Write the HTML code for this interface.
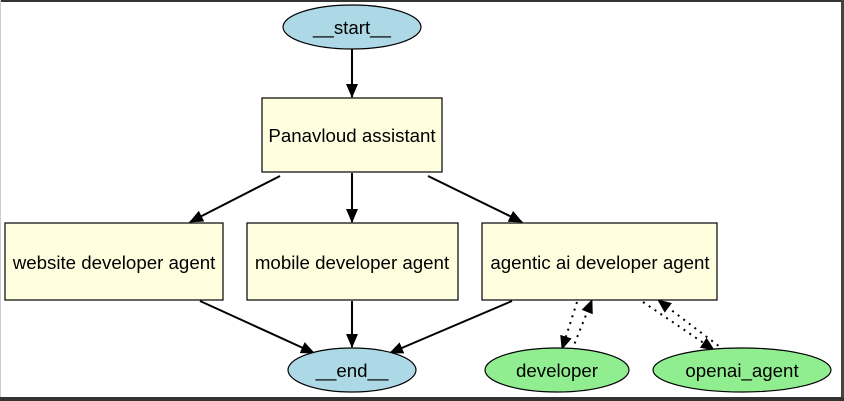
<!DOCTYPE html>
<html><head><style>
html,body{margin:0;padding:0;background:#fff;}
svg{display:block;}
text{font-family:"Liberation Sans",Arial,sans-serif;font-size:18.7px;fill:#000;}
</style></head><body>
<svg width="844" height="401" viewBox="0 0 844 401" xmlns="http://www.w3.org/2000/svg">
<defs>
<marker id="b" markerWidth="14" markerHeight="12" refX="13" refY="6" orient="auto" markerUnits="userSpaceOnUse"><path d="M0,0 L14,6 L0,12 z" fill="#000"/></marker>
</defs>
<rect x="0" y="0" width="844" height="401" fill="#fff"/>
<rect x="0" y="0" width="844" height="2" fill="#333"/>
<rect x="0" y="0" width="1" height="401" fill="#ccc"/>
<rect x="841" y="0" width="3" height="401" fill="#444"/>
<rect x="0" y="397" width="844" height="4" fill="#333"/>
<g stroke="#000" stroke-width="2" fill="none">
<line x1="352" y1="49" x2="352" y2="97" marker-end="url(#b)"/>
<line x1="280" y1="176" x2="190" y2="222" marker-end="url(#b)"/>
<line x1="352" y1="173" x2="352" y2="222" marker-end="url(#b)"/>
<line x1="428" y1="176" x2="522" y2="222" marker-end="url(#b)"/>
<line x1="200" y1="301" x2="314" y2="353" marker-end="url(#b)"/>
<line x1="352" y1="301" x2="352" y2="347" marker-end="url(#b)"/>
<line x1="512" y1="301" x2="390" y2="353" marker-end="url(#b)"/>
</g>
<g stroke="#000" stroke-width="2" fill="none" stroke-dasharray="2,5">
<line x1="577" y1="302" x2="562" y2="349" marker-end="url(#b)"/>
<line x1="572" y1="350" x2="592" y2="300" marker-end="url(#b)"/>
<line x1="643" y1="302" x2="714" y2="350" marker-end="url(#b)"/>
<line x1="724" y1="350" x2="658" y2="300" marker-end="url(#b)"/>
</g>
<g stroke="#000" stroke-width="1.2">
<ellipse cx="352" cy="27" rx="69" ry="22" fill="#add8e6"/>
<rect x="262" y="98" width="180" height="74" fill="#ffffe0"/>
<rect x="5" y="223" width="218" height="77" fill="#ffffe0"/>
<rect x="247" y="223" width="211" height="77" fill="#ffffe0"/>
<rect x="482" y="223" width="235" height="77" fill="#ffffe0"/>
<ellipse cx="352" cy="370" rx="64" ry="22" fill="#add8e6"/>
<ellipse cx="557" cy="370" rx="72" ry="22" fill="#90ee90"/>
<ellipse cx="742" cy="370" rx="89" ry="22" fill="#90ee90"/>
</g>
<g text-anchor="middle">
<text x="352" y="34">__start__</text>
<text x="352" y="142">Panavloud assistant</text>
<text x="114" y="269">website developer agent</text>
<text x="352" y="269">mobile developer agent</text>
<text x="600" y="269">agentic ai developer agent</text>
<text x="352" y="377">__end__</text>
<text x="557" y="377">developer</text>
<text x="742" y="377">openai_agent</text>
</g>
</svg>
</body></html>
